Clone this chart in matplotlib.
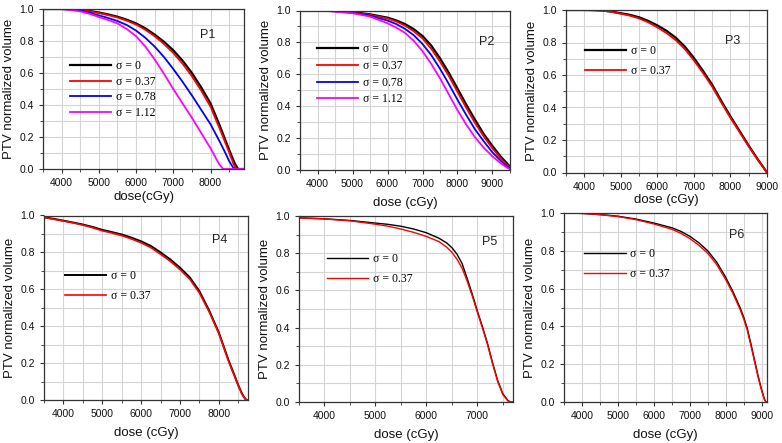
import matplotlib
matplotlib.use("Agg")
import matplotlib.pyplot as plt
from matplotlib.ticker import MultipleLocator, FormatStrFormatter

W, H = 782, 443

# ---------------- data ----------------
labels4 = ["σ = 0", "σ = 0.37", "σ = 0.78", "σ = 1.12"]
colors4 = ["black", "red", "blue", "magenta"]

# P1
p1_d0 = [3500, 4000, 4250, 4500, 4750, 5000, 5250, 5500, 5750, 6000, 6250, 6500, 6750, 7000, 7250, 7500, 7750, 8000, 8250, 8500, 8650, 8740, 8900]
p1_s0 = [1.0, 1.0, 0.999, 0.996, 0.988, 0.978, 0.966, 0.952, 0.933, 0.91, 0.879, 0.84, 0.795, 0.742, 0.677, 0.60, 0.51, 0.41, 0.27, 0.12, 0.035, 0.0, 0.0]
p1_d1 = [3500, 4000, 4250, 4500, 4750, 5000, 5250, 5500, 5750, 6000, 6250, 6500, 6750, 7000, 7250, 7500, 7750, 8000, 8250, 8500, 8620, 8700, 8900]
p1_s037 = [1.0, 1.0, 0.998, 0.995, 0.986, 0.975, 0.962, 0.947, 0.927, 0.903, 0.87, 0.83, 0.782, 0.725, 0.658, 0.58, 0.49, 0.39, 0.25, 0.105, 0.03, 0.0, 0.0]
p1_d2 = [3500, 4000, 4250, 4500, 4750, 5000, 5250, 5500, 5750, 6000, 6250, 6500, 6750, 7000, 7250, 7500, 7750, 8000, 8250, 8400, 8500, 8600, 8660, 8900]
p1_s078 = [1.0, 1.0, 0.997, 0.99, 0.977, 0.96, 0.944, 0.925, 0.90, 0.865, 0.82, 0.765, 0.70, 0.625, 0.545, 0.46, 0.37, 0.28, 0.17, 0.10, 0.05, 0.012, 0.0, 0.0]
p1_d3 = [3500, 4000, 4250, 4500, 4750, 5000, 5250, 5500, 5750, 6000, 6250, 6500, 6750, 7000, 7250, 7500, 7750, 8000, 8150, 8250, 8340, 8900]
p1_s112 = [1.0, 0.999, 0.993, 0.985, 0.97, 0.95, 0.932, 0.91, 0.875, 0.83, 0.765, 0.685, 0.595, 0.50, 0.41, 0.32, 0.225, 0.13, 0.065, 0.025, 0.0, 0.0]

# P2
p2_dose = [3500, 4000, 4500, 5000, 5500, 6000, 6250, 6500, 6750, 7000, 7250, 7500, 7750, 8000, 8250, 8500, 8750, 9000, 9250, 9400, 9500]
p2_s0 = [1.0, 1.0, 0.997, 0.99, 0.976, 0.955, 0.938, 0.915, 0.883, 0.84, 0.78, 0.70, 0.61, 0.51, 0.41, 0.315, 0.225, 0.15, 0.08, 0.045, 0.02]
p2_s037 = [1.0, 1.0, 0.997, 0.988, 0.973, 0.95, 0.931, 0.905, 0.87, 0.825, 0.76, 0.68, 0.59, 0.49, 0.39, 0.295, 0.21, 0.135, 0.07, 0.035, 0.015]
p2_s078 = [1.0, 1.0, 0.995, 0.985, 0.968, 0.937, 0.915, 0.885, 0.845, 0.79, 0.72, 0.635, 0.54, 0.44, 0.345, 0.255, 0.18, 0.11, 0.055, 0.025, 0.01]
p2_s112 = [1.0, 1.0, 0.993, 0.983, 0.962, 0.92, 0.893, 0.86, 0.81, 0.745, 0.665, 0.575, 0.475, 0.375, 0.285, 0.205, 0.14, 0.085, 0.04, 0.017, 0.005]

# P3
p3_dose = [3500, 4000, 4250, 4500, 4750, 5000, 5250, 5500, 5750, 6000, 6250, 6500, 6750, 7000, 7250, 7500, 7750, 8000, 8250, 8500, 8750, 9000]
p3_s0 = [1.0, 1.0, 0.999, 0.997, 0.99, 0.98, 0.97, 0.955, 0.933, 0.905, 0.872, 0.83, 0.775, 0.705, 0.625, 0.54, 0.44, 0.345, 0.255, 0.165, 0.08, 0.0]
p3_s037 = [1.0, 1.0, 0.999, 0.996, 0.988, 0.977, 0.965, 0.948, 0.924, 0.893, 0.858, 0.815, 0.76, 0.69, 0.612, 0.528, 0.43, 0.336, 0.248, 0.16, 0.077, 0.0]

# P4
p4_dose = [3500, 3750, 4000, 4250, 4500, 4750, 5000, 5250, 5500, 5750, 6000, 6250, 6500, 6750, 7000, 7250, 7500, 7750, 8000, 8250, 8400, 8500, 8600, 8680, 8720]
p4_s0 = [0.99, 0.982, 0.972, 0.962, 0.951, 0.938, 0.922, 0.91, 0.897, 0.88, 0.86, 0.835, 0.80, 0.762, 0.717, 0.665, 0.59, 0.485, 0.365, 0.215, 0.135, 0.08, 0.032, 0.006, 0.0]
p4_s037 = [0.99, 0.98, 0.97, 0.96, 0.948, 0.934, 0.917, 0.905, 0.891, 0.873, 0.852, 0.826, 0.79, 0.752, 0.707, 0.655, 0.58, 0.478, 0.36, 0.21, 0.13, 0.077, 0.03, 0.005, 0.0]

# P5
p5_dose = [3500, 4000, 4500, 5000, 5250, 5500, 5750, 6000, 6250, 6400, 6500, 6600, 6700, 6800, 6900, 7000, 7100, 7200, 7300, 7400, 7500, 7600, 7650, 7700]
p5_s0 = [0.99, 0.985, 0.976, 0.962, 0.955, 0.945, 0.93, 0.91, 0.88, 0.855, 0.83, 0.795, 0.745, 0.665, 0.58, 0.49, 0.405, 0.315, 0.21, 0.115, 0.045, 0.008, 0.0, 0.0]
p5_s037 = [0.99, 0.984, 0.974, 0.956, 0.945, 0.93, 0.912, 0.89, 0.862, 0.832, 0.805, 0.768, 0.72, 0.65, 0.57, 0.483, 0.398, 0.308, 0.204, 0.11, 0.04, 0.006, 0.0, 0.0]

# P6
p6_dose = [3500, 4000, 4500, 5000, 5500, 6000, 6500, 6750, 7000, 7250, 7500, 7750, 8000, 8200, 8400, 8500, 8600, 8700, 8800, 8900, 9000, 9080, 9120, 9150]
p6_s0 = [1.0, 0.998, 0.992, 0.983, 0.968, 0.947, 0.922, 0.903, 0.877, 0.843, 0.80, 0.74, 0.66, 0.585, 0.50, 0.45, 0.39, 0.31, 0.225, 0.14, 0.065, 0.015, 0.0, 0.0]
p6_s037 = [1.0, 0.998, 0.991, 0.981, 0.965, 0.942, 0.914, 0.893, 0.865, 0.83, 0.787, 0.727, 0.648, 0.575, 0.49, 0.44, 0.38, 0.30, 0.217, 0.133, 0.06, 0.012, 0.0, 0.0]

# ---------------- layout ----------------
fig = plt.figure(figsize=(W / 100, H / 100), dpi=100)
SANS = ["Liberation Sans", "DejaVu Sans"]
SERIF = ["Liberation Serif", "DejaVu Serif"]


def add_ax(left, top, right, bottom):
    return fig.add_axes([left / W, 1 - bottom / H, (right - left) / W, (bottom - top) / H])


def style(ax, xlim, xlabel, panel, ppos, labelpad_x):
    ax.set_xlim(*xlim)
    ax.set_ylim(0, 1.0)
    ax.xaxis.set_major_locator(MultipleLocator(1000))
    ax.xaxis.set_minor_locator(MultipleLocator(500))
    ax.yaxis.set_major_locator(MultipleLocator(0.2))
    ax.yaxis.set_minor_locator(MultipleLocator(0.1))
    ax.yaxis.set_major_formatter(FormatStrFormatter("%.1f"))
    ax.grid(True, which="both", color="#d4d4d4", linewidth=0.8)
    ax.set_axisbelow(True)
    for s in ax.spines.values():
        s.set_color("#333333")
        s.set_linewidth(0.9)
    ax.tick_params(which="major", length=3, width=0.8, pad=3.5, labelsize=7.5,
                   colors="#333333", labelcolor="#111111")
    ax.tick_params(which="minor", length=2, width=0.6, colors="#333333")
    for lab in ax.get_xticklabels() + ax.get_yticklabels():
        lab.set_family(SANS)
    ax.set_xlabel(xlabel, family=SANS, fontsize=9.5, labelpad=labelpad_x, color="#111111")
    ax.set_ylabel("PTV normalized volume", family=SANS, fontsize=9.5, labelpad=3, color="#111111")
    ax.text(ppos[0], ppos[1], panel, transform=ax.transAxes, family=SANS, fontsize=9,
            ha="center", va="center", color="#222222")


def legend(ax, x, y, spacing):
    ax.legend(loc="upper left", bbox_to_anchor=(x, y), frameon=False, borderpad=0,
              borderaxespad=0, handlelength=3.5, handletextpad=0.4, labelspacing=spacing,
              prop={"family": SERIF, "size": 8.5})


# P1
ax1 = add_ax(43, 9, 244, 169)
for d, v, c, l, lw in [(p1_d0, p1_s0, colors4[0], labels4[0], 1.6),
                       (p1_d1, p1_s037, colors4[1], labels4[1], 1.3),
                       (p1_d2, p1_s078, colors4[2], labels4[2], 1.3),
                       (p1_d3, p1_s112, colors4[3], labels4[3], 1.3)]:
    ax1.plot(d, v, color=c, lw=lw, label=l)
style(ax1, (3500, 8900), "dose(cGy)", "P1", (0.82, 0.84), 2)
legend(ax1, 0.134, 0.68, 0.3)

# P2
ax2 = add_ax(300, 10.5, 510, 170)
for v, c, l, lw in [(p2_s0, colors4[0], labels4[0], 1.6),
                    (p2_s037, colors4[1], labels4[1], 1.3),
                    (p2_s078, colors4[2], labels4[2], 1.3),
                    (p2_s112, colors4[3], labels4[3], 1.3)]:
    ax2.plot(p2_dose, v, color=c, lw=lw, label=l)
style(ax2, (3500, 9500), "dose (cGy)", "P2", (0.889, 0.80), 6)
legend(ax2, 0.08, 0.795, 0.4)

# P3
ax3 = add_ax(566, 10, 767, 172.5)
ax3.plot(p3_dose, p3_s0, color="black", lw=1.6, label=labels4[0])
ax3.plot(p3_dose, p3_s037, color="red", lw=1.3, label=labels4[1])
style(ax3, (3500, 9000), "dose (cGy)", "P3", (0.83, 0.81), 2)
legend(ax3, 0.095, 0.785, 0.7)

# P4
ax4 = add_ax(44, 215.5, 248, 400)
ax4.plot(p4_dose, p4_s0, color="black", lw=1.4, label=labels4[0])
ax4.plot(p4_dose, p4_s037, color="red", lw=1.2, label=labels4[1])
style(ax4, (3500, 8750), "dose (cGy)", "P4", (0.863, 0.867), 6)
legend(ax4, 0.103, 0.705, 0.7)

# P5
ax5 = add_ax(299, 216, 513, 402)
ax5.plot(p5_dose, p5_s0, color="black", lw=1.0, label=labels4[0])
ax5.plot(p5_dose, p5_s037, color="red", lw=1.0, label=labels4[1])
style(ax5, (3500, 7700), "dose (cGy)", "P5", (0.89, 0.862), 6)
legend(ax5, 0.13, 0.80, 0.7)

# P6
ax6 = add_ax(564, 213, 767, 402)
ax6.plot(p6_dose, p6_s0, color="black", lw=1.0, label=labels4[0])
ax6.plot(p6_dose, p6_s037, color="red", lw=1.0, label=labels4[1])
style(ax6, (3500, 9150), "dose (cGy)", "P6", (0.85, 0.884), 6)
legend(ax6, 0.10, 0.815, 0.7)

fig.savefig("out.png", dpi=100, facecolor="white")
